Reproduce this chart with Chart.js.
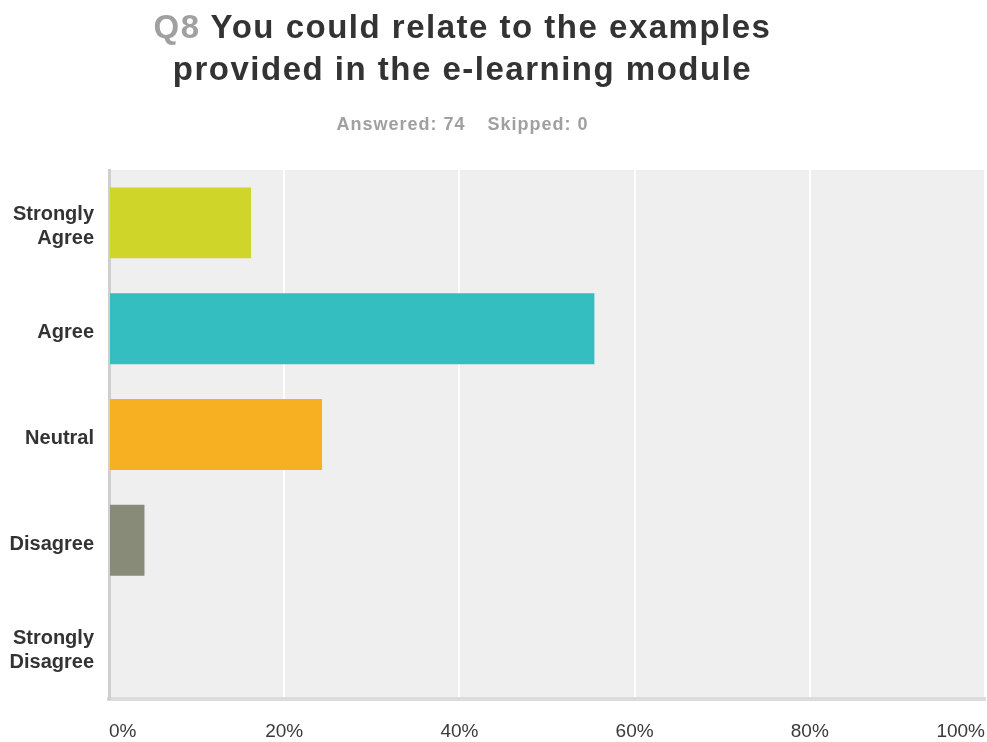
<!DOCTYPE html>
<html>
<head>
<meta charset="utf-8">
<script src="https://cdn.jsdelivr.net/npm/chart.js@4/dist/chart.umd.min.js"></script>
<style>
  html, body { margin: 0; padding: 0; background: #fff; }
  #wrap { position: relative; width: 987px; height: 742px; }
  #chart { position: absolute; left: 0; top: 0; }
  .title {
    position: absolute; left: 0; width: 925px; text-align: center;
    font-family: "Liberation Sans", Arial, sans-serif; font-weight: bold;
    white-space: nowrap;
  }
  #t1 { top: 6px; font-size: 33px; line-height: 42px; letter-spacing: 1.5px; color: #333; }
  #t1 .q { color: #a0a0a0; }
  #sub { top: 114px; font-size: 18px; line-height: 20px; letter-spacing: 1px; color: #a0a0a0; }
  #sub .gap { display: inline-block; width: 22px; }
</style>
</head>
<body>
<div id="wrap">
  <canvas id="chart" width="987" height="742"></canvas>
  <div class="title" id="t1"><span class="q">Q8</span> You could relate to the examples<br>provided in the e-learning module</div>
  <div class="title" id="sub">Answered: 74<span class="gap"></span>Skipped: 0</div>
</div>
<script>
// answer options, top to bottom
const categories = [['Strongly', 'Agree'], 'Agree', 'Neutral', 'Disagree', ['Strongly', 'Disagree']];
// share of respondents, percent
const percents = [16.22, 55.41, 24.32, 4.05, 0.00];
const barColors = ['#d0d52a', '#34bec0', '#f7b021', '#898b79', '#c0c0c0'];
const xTicks = [0, 20, 40, 60, 80, 100];

// grey panel behind the bars
const plotBackground = {
    id: 'plotBackground',
    beforeDraw(chart) {
        const { ctx, chartArea: a } = chart;
        ctx.save();
        ctx.fillStyle = '#efefef';
        ctx.fillRect(a.left, a.top, a.right - a.left, a.bottom - a.top);
        ctx.restore();
    }
};

// nudge the category labels down a little so they sit level with the bars
function nudgeLabels(scale, dy) {
    if (scale._nudged) return;
    const orig = scale.drawLabels.bind(scale);
    scale.drawLabels = area => {
        const ctx = scale.ctx;
        ctx.save();
        ctx.translate(0, dy);
        orig(area);
        ctx.restore();
    };
    scale._nudged = true;
}

new Chart(document.getElementById('chart'), {
    type: 'bar',
    data: {
        labels: categories,
        datasets: [{
            data: percents,
            backgroundColor: barColors,
            borderWidth: 0,
            categoryPercentage: 1,
            barPercentage: 0.67
        }]
    },
    options: {
        indexAxis: 'y',
        responsive: false,
        animation: false,
        layout: { padding: { top: 170, right: 2, bottom: 0, left: 0 } },
        plugins: {
            legend: { display: false },
            tooltip: { enabled: false }
        },
        scales: {
            x: {
                min: 0,
                max: 100,
                afterBuildTicks: scale => { scale.ticks = xTicks.map(v => ({ value: v })); },
                afterFit: scale => {
                    scale.height = 43;
                    scale.paddingLeft = 0;
                    scale.paddingRight = 0;
                },
                grid: {
                    color: ctx => ctx.index === 0 ? 'rgba(0,0,0,0)' : '#ffffff',
                    lineWidth: 2,
                    drawTicks: false
                },
                border: { display: true, color: '#dcdcdc', width: 4 },
                ticks: {
                    align: 'inner',
                    padding: 21,
                    color: '#3a3a3a',
                    font: { family: 'Liberation Sans', size: 19 },
                    callback: v => v + '%'
                }
            },
            y: {
                afterFit: scale => {
                    scale.width = 109;
                    scale.paddingTop = 0;
                    scale.paddingBottom = 0;
                    nudgeLabels(scale, 4);
                },
                grid: { display: false, drawTicks: false },
                border: { display: true, color: '#cfcfcf', width: 3 },
                ticks: {
                    padding: 15,
                    color: '#333333',
                    font: { family: 'Liberation Sans', size: 20, weight: 'bold', lineHeight: 1.2 }
                }
            }
        }
    },
    plugins: [plotBackground]
});
</script>
</body>
</html>
